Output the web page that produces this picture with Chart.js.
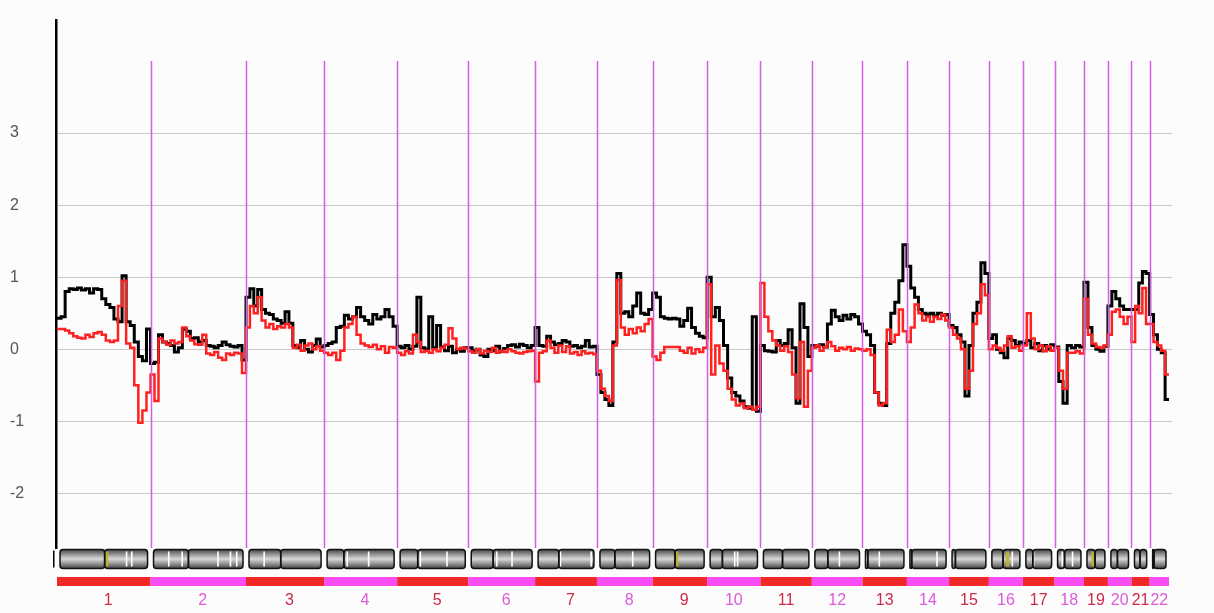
<!DOCTYPE html>
<html>
<head>
<meta charset="utf-8">
<script src="https://cdn.jsdelivr.net/npm/chart.js@4.4.1/dist/chart.umd.min.js"></script>
<style>
  html, body { margin: 0; padding: 0; background: #fcfcfc; }
  #wrap { width: 1214px; height: 613px; }
</style>
</head>
<body>
<div id="wrap"><canvas id="cnChart" width="1214" height="613"></canvas></div>
<script>
// ---- DATA ----
const chromNames = ["1","2","3","4","5","6","7","8","9","10","11","12","13","14","15","16","17","18","19","20","21","22"];
// chromosome lengths (Mb), as laid out along the genome axis
const chromLengths = [242, 247, 202, 189, 184, 173, 160, 144, 141, 138, 133, 131, 115, 109, 103, 88, 82, 76, 62, 61, 47, 50];
// centromere position, fraction of chromosome length
const centromeres = [0.51, 0.39, 0.44, 0.25, 0.27, 0.36, 0.37, 0.3, 0.4, 0.26, 0.42, 0.29, 0.06, 0.05, 0.1, 0.4, 0.27, 0.3, 0.45, 0.37, 0.45, 0.1];
// pale bands on the ideograms, fraction of chromosome length
const bandMarks = [[0.76, 0.82], [0.17, 0.32, 0.72, 0.86, 0.93], [0.21], [0.3, 0.62], [0.31, 0.72], [0.42, 0.67],
  [0.4, 0.95], [0.66], [], [0.52, 0.58], [], [0.55], [0.36], [0.75], [], [0.73], [0.3], [0.2, 0.64], [], [], [], []];
// heterochromatin blocks (yellowish), fraction of chromosome length
const heteroMarks = [[0.53], [], [], [], [], [], [], [], [0.43], [], [], [], [], [], [], [0.55], [], [], [0.33], [], [], []];
const yTicks = [-2, -1, 0, 1, 2, 3];

// log2 ratio per chromosome, evenly spaced probes along each chromosome
const blackRatio = [
  [0.43,0.45,0.8,0.84,0.83,0.85,0.82,0.84,0.78,0.84,0.83,0.7,0.62,0.58,0.42,0.38,1.02,0.38,0.33,0.1,-0.1,-0.16,0.28],
  [-0.2,-0.18,0.2,0.1,0.08,0.05,-0.04,0.02,0.28,0.25,0.15,0.16,0.1,0.12,0.05,0.04,0.02,0.05,0.1,0.06,0.04,0.03,0.05,-0.15],
  [0.72,0.84,0.6,0.83,0.55,0.5,0.48,0.42,0.4,0.36,0.52,0.36,0.05,0.02,0.12,0.0,-0.04,0.05,0.14,0.03],
  [0.05,0.08,0.1,0.3,0.32,0.47,0.42,0.45,0.58,0.45,0.4,0.35,0.48,0.42,0.45,0.55,0.45,0.32],
  [0.04,0.02,0.05,0.0,0.04,0.72,0.02,0.0,0.45,0.02,0.33,0.03,-0.02,0.04,-0.05,0.0,-0.03,0.02],
  [0.02,-0.03,0.0,-0.08,-0.1,0.0,-0.02,0.04,-0.03,0.01,0.05,0.06,0.03,0.07,0.05,0.02,0.05],
  [0.3,0.05,0.04,0.18,0.1,0.06,0.08,0.12,0.1,0.04,0.05,0.02,0.04,0.12,0.03,0.04],
  [-0.35,-0.6,-0.7,-0.78,0.1,1.05,0.5,0.52,0.45,0.6,0.78,0.5,0.48,0.55],
  [0.78,0.72,0.45,0.43,0.42,0.43,0.42,0.32,0.4,0.57,0.3,0.22,0.18,0.16],
  [1.0,0.45,0.58,0.4,0.05,-0.4,-0.6,-0.65,-0.72,-0.8,-0.82,0.45,-0.86],
  [0.05,-0.02,-0.03,-0.04,0.12,0.05,0.08,0.27,0.02,-0.75,0.63,0.3,-0.1],
  [0.05,0.04,0.06,0.03,0.35,0.54,0.45,0.4,0.47,0.42,0.48,0.45,0.35],
  [0.25,0.2,0.05,-0.6,-0.75,-0.78,0.08,0.5,0.65,0.95,1.45],
  [1.15,0.85,0.72,0.55,0.5,0.48,0.5,0.46,0.5,0.47,0.48],
  [0.33,0.3,0.2,0.1,-0.65,0.05,0.5,0.65,1.2,1.05],
  [0.15,0.2,0.0,-0.05,-0.12,0.15,0.12,0.05,0.1],
  [0.08,0.12,0.02,0.08,-0.02,0.05,0.0,0.06],
  [0.03,-0.45,-0.75,0.05,0.02,0.05,0.03],
  [0.93,0.3,0.05,0.0,-0.03,0.04],
  [0.6,0.8,0.7,0.6,0.55,0.55],
  [0.55,0.55,0.92,1.08,1.05],
  [0.48,0.2,0.0,-0.05,-0.7]
];
const redRatio = [
  [0.28,0.28,0.26,0.22,0.18,0.16,0.15,0.2,0.17,0.22,0.24,0.2,0.12,0.1,0.12,0.6,0.95,0.08,0.02,-0.5,-1.02,-0.85,-0.6],
  [-0.35,-0.72,0.15,0.1,0.06,0.12,0.08,0.1,0.3,0.18,0.12,0.07,0.06,0.2,-0.06,-0.08,-0.04,-0.12,-0.15,-0.06,-0.08,-0.05,-0.06,-0.33],
  [0.3,0.6,0.5,0.72,0.4,0.3,0.35,0.28,0.32,0.3,0.35,0.3,0.02,0.06,-0.02,0.05,0.08,0.0,0.04,-0.02],
  [-0.05,-0.08,-0.05,-0.15,-0.02,0.3,0.35,0.45,0.2,0.08,0.05,0.03,0.06,0.0,0.04,-0.05,0.03,0.02],
  [-0.05,-0.08,-0.03,-0.06,0.2,0.1,-0.04,-0.02,-0.05,0.0,-0.03,0.02,0.06,0.29,0.15,0.0,0.02,0.01],
  [-0.03,-0.05,0.0,-0.06,-0.02,-0.04,0.02,-0.05,-0.02,-0.04,0.0,-0.03,-0.05,-0.06,-0.04,-0.03,-0.02],
  [-0.45,-0.05,-0.03,0.12,0.02,-0.05,0.05,-0.04,0.04,-0.06,-0.04,-0.08,-0.03,-0.06,-0.05,-0.07],
  [-0.3,-0.55,-0.65,-0.72,0.05,0.96,0.3,0.2,0.28,0.22,0.3,0.25,0.35,0.42],
  [-0.1,-0.15,-0.05,0.03,0.03,0.03,0.03,-0.02,-0.05,0.02,-0.06,0.0,-0.04,0.02],
  [0.9,-0.35,0.05,-0.2,-0.3,-0.55,-0.7,-0.78,-0.75,-0.82,-0.8,-0.84,-0.8],
  [0.92,0.45,0.25,0.12,0.05,-0.02,0.04,-0.04,-0.35,-0.68,0.1,-0.8,-0.3],
  [0.02,0.05,-0.02,0.03,0.1,0.04,-0.02,0.02,0.0,0.03,-0.02,0.01,0.0],
  [-0.02,0.0,-0.08,-0.6,-0.78,-0.75,0.27,0.1,0.2,0.55,0.25],
  [0.1,0.3,0.62,0.5,0.4,0.45,0.38,0.45,0.42,0.48,0.4],
  [0.3,0.2,0.15,0.0,-0.55,-0.3,0.35,0.5,0.9,0.75],
  [0.0,0.05,0.02,-0.02,0.05,0.18,0.02,0.04,-0.02],
  [0.05,0.5,0.15,0.0,0.05,-0.03,0.04,-0.02],
  [0.02,-0.3,-0.55,-0.05,-0.05,-0.03,-0.06],
  [0.7,0.2,0.08,0.03,0.02,0.05],
  [0.2,0.52,0.55,0.45,0.35,0.45],
  [0.1,0.6,0.5,0.85,0.35],
  [0.35,0.1,0.05,-0.02,-0.35]
];

// ---- HELPERS ----
const chromStarts = [];
let genomeLength = 0;
chromLengths.forEach(len => { chromStarts.push(genomeLength); genomeLength += len; });

function buildPoints(series) {
  const pts = [];
  series.forEach((vals, c) => {
    const step = chromLengths[c] / vals.length;
    vals.forEach((v, i) => pts.push({ x: chromStarts[c] + i * step, y: v }));
  });
  const last = series[series.length - 1];
  pts.push({ x: genomeLength, y: last[last.length - 1] });
  return pts;
}

function roundedBox(ctx, x, y, w, h, r) {
  r = Math.min(r, w / 2, h / 2);
  ctx.beginPath();
  ctx.moveTo(x + r, y);
  ctx.lineTo(x + w - r, y);
  ctx.quadraticCurveTo(x + w, y, x + w, y + r);
  ctx.lineTo(x + w, y + h - r);
  ctx.quadraticCurveTo(x + w, y + h, x + w - r, y + h);
  ctx.lineTo(x + r, y + h);
  ctx.quadraticCurveTo(x, y + h, x, y + h - r);
  ctx.lineTo(x, y + r);
  ctx.quadraticCurveTo(x, y, x + r, y);
  ctx.closePath();
}

const ODD_COLOR = "#f02828";
const EVEN_COLOR = "#f84cf4";

// background, separators, ideograms and colour strip
const genomePlugin = {
  id: "genome",
  beforeDraw(chart) {
    const ctx = chart.ctx;
    ctx.save();
    ctx.fillStyle = "#fcfcfc";
    ctx.fillRect(0, 0, chart.width, chart.height);
    ctx.restore();
  },
  afterDatasetsDraw(chart) {
    const { ctx, chartArea, scales } = chart;
    const top = scales.y.getPixelForValue(4);
    ctx.save();
    ctx.strokeStyle = "#d35ee2";
    ctx.lineWidth = 1.5;
    for (let c = 1; c < chromLengths.length; c++) {
      const px = Math.round(scales.x.getPixelForValue(chromStarts[c])) + 0.5;
      ctx.beginPath();
      ctx.moveTo(px, top);
      ctx.lineTo(px, chartArea.bottom);
      ctx.stroke();
    }
    ctx.restore();
  },
  afterDraw(chart) {
    const { ctx, chartArea, scales } = chart;
    const ideoTop = chartArea.bottom + 1.5;
    const ideoH = 19;
    const barTop = chartArea.bottom + 29;
    ctx.save();
    // little tick at the left of the ideogram row
    ctx.fillStyle = "#000";
    ctx.fillRect(chartArea.left - 3, ideoTop + 1, 1.5, ideoH - 2);

    const grad = ctx.createLinearGradient(0, ideoTop, 0, ideoTop + ideoH);
    grad.addColorStop(0, "#444444");
    grad.addColorStop(0.25, "#929292");
    grad.addColorStop(0.5, "#d8d8d8");
    grad.addColorStop(0.75, "#929292");
    grad.addColorStop(1, "#444444");

    chromLengths.forEach((len, c) => {
      const sx = scales.x.getPixelForValue(chromStarts[c]);
      const ex = scales.x.getPixelForValue(chromStarts[c] + len);
      // colour strip
      ctx.fillStyle = c % 2 === 0 ? ODD_COLOR : EVEN_COLOR;
      ctx.fillRect(sx, barTop, ex - sx, 9);

      const x0 = sx + 3, x1 = ex - 3;
      const cx = x0 + (x1 - x0) * centromeres[c];
      const arms = [[x0, cx], [cx, x1]].filter(a => a[1] - a[0] > 1);
      arms.forEach(([a, b]) => {
        roundedBox(ctx, a, ideoTop, b - a, ideoH, 3);
        ctx.fillStyle = grad;
        ctx.fill();
      });
      // heterochromatin
      ctx.fillStyle = "rgba(190,180,40,0.85)";
      heteroMarks[c].forEach(f => {
        const hx = x0 + (x1 - x0) * f;
        ctx.fillRect(hx - 1.5, ideoTop + 2, 3.5, ideoH - 4);
      });
      // pale bands
      ctx.strokeStyle = "#ffffff";
      ctx.lineWidth = 1.6;
      bandMarks[c].forEach(f => {
        const bx = x0 + (x1 - x0) * f;
        ctx.beginPath();
        ctx.moveTo(bx, ideoTop + 2);
        ctx.lineTo(bx, ideoTop + ideoH - 2);
        ctx.stroke();
      });
      // outlines
      ctx.strokeStyle = "#111";
      ctx.lineWidth = 1.5;
      arms.forEach(([a, b]) => {
        roundedBox(ctx, a, ideoTop, b - a, ideoH, 3);
        ctx.stroke();
      });
    });
    ctx.restore();
  }
};

// ---- CHART ----
const chart = new Chart(document.getElementById("cnChart").getContext("2d"), {
  type: "line",
  data: {
    datasets: [
      {
        label: "Ratio",
        data: buildPoints(blackRatio),
        borderColor: "#000000",
        borderWidth: 3,
        pointRadius: 0,
        stepped: true,
        order: 2
      },
      {
        label: "Ratio (smoothed)",
        data: buildPoints(redRatio),
        borderColor: "#ff2020",
        borderWidth: 2.5,
        pointRadius: 0,
        stepped: true,
        order: 1
      }
    ]
  },
  options: {
    responsive: false,
    animation: false,
    devicePixelRatio: 1,
    layout: { padding: { left: 10, top: 20, right: 42, bottom: 0 } },
    plugins: { legend: { display: false }, tooltip: { enabled: false } },
    scales: {
      x: {
        type: "linear",
        min: -2.59,
        max: 2884.8,
        afterBuildTicks: s => { s.ticks = chromStarts.map((st, i) => ({ value: st + chromLengths[i] / 2 })); },
        afterFit: s => { s.height = 65; },
        grid: { display: false, drawTicks: false },
        border: { display: false },
        ticks: {
          autoSkip: false,
          maxRotation: 0,
          padding: 43,
          font: { family: "Arial", size: 16 },
          color: ctx => (ctx.index % 2 === 0 ? "#cc2a48" : "#dd5ad8"),
          callback: (v, i) => (chromNames[i].length === 1 ? "  " + chromNames[i] : chromNames[i])
        }
      },
      y: {
        min: -2.76,
        max: 4.57,
        afterBuildTicks: s => { s.ticks = yTicks.map(v => ({ value: v })); },
        afterFit: s => { s.width = 46; },
        grid: { color: "#c8c8c8", lineWidth: 1, drawTicks: false },
        border: { display: true, color: "#000000", width: 2.5 },
        ticks: {
          color: "#555555",
          font: { family: "Arial", size: 16 },
          crossAlign: "far",
          padding: 0
        }
      }
    }
  },
  plugins: [genomePlugin]
});
</script>
</body>
</html>
